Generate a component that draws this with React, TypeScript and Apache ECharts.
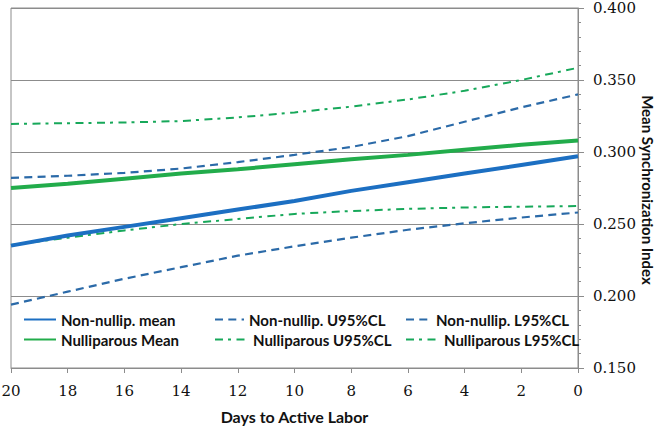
import React, { useEffect, useRef } from "react";
import * as echarts from "echarts";

const days = [20, 18, 16, 14, 12, 10, 8, 6, 4, 2, 0];
const nonNullipMean = [0.235, 0.242, 0.248, 0.254, 0.260, 0.266, 0.273, 0.279, 0.285, 0.291, 0.297];
const nonNullipU95 = [0.282, 0.2835, 0.2855, 0.2885, 0.293, 0.298, 0.3035, 0.311, 0.321, 0.331, 0.340];
const nonNullipL95 = [0.194, 0.203, 0.212, 0.220, 0.228, 0.2345, 0.2405, 0.246, 0.2505, 0.2545, 0.258];
const nulliparousMean = [0.275, 0.278, 0.2815, 0.285, 0.288, 0.2915, 0.295, 0.298, 0.3015, 0.305, 0.308];
const nulliparousU95 = [0.3195, 0.32, 0.3205, 0.3215, 0.324, 0.3275, 0.3315, 0.3365, 0.3425, 0.35, 0.3585];
const nulliparousL95 = [0.2355, 0.2405, 0.2455, 0.25, 0.2535, 0.257, 0.259, 0.2605, 0.2615, 0.262, 0.2625];

const seriesNames = [
  "Non-nullip. mean",
  "Non-nullip. U95%CL",
  "Non-nullip. L95%CL",
  "Nulliparous Mean",
  "Nulliparous U95%CL",
  "Nulliparous L95%CL",
];

const xTitle = "Days to Active Labor";
const yTitle = "Mean Synchronization Index";

const yTickMin = 0.15;
const yTickMax = 0.4;
const yTickStep = 0.05;
const xMin = 0;
const xMax = 20;
const xStep = 2;

const BLUE = "#1c6fc2";
const BLUE_DASH = "#2b6aa8";
const GREEN = "#22ac4b";
const GREEN_DASH = "#17a85a";

const pairs = (vals: number[]) => days.map((d, i) => [d, vals[i]]);

export default function App() {
  const ref = useRef<HTMLDivElement>(null);
  useEffect(() => {
    if (!ref.current) return;
    const chart = echarts.init(ref.current, undefined, { renderer: "svg" });
    const legendFont = {
      fontFamily: "Lato",
      fontWeight: "bold" as const,
      fontSize: 15,
      color: "#111",
    };
    const legendPos: { left: number; top: number; w: number }[] = [
      { left: 23, top: 312, w: 32 },
      { left: 214, top: 312, w: 29 },
      { left: 405, top: 312, w: 25 },
      { left: 23, top: 332, w: 32 },
      { left: 214, top: 332, w: 33 },
      { left: 405, top: 332, w: 33 },
    ];
    const lineCfg = [
      { vals: nonNullipMean, color: BLUE, width: 4, type: "solid" as any },
      { vals: nonNullipU95, color: BLUE_DASH, width: 2.2, type: [8, 5.3] },
      { vals: nonNullipL95, color: BLUE_DASH, width: 2.2, type: [8, 5.3] },
      { vals: nulliparousMean, color: GREEN, width: 4, type: "solid" as any },
      { vals: nulliparousU95, color: GREEN_DASH, width: 2, type: [8, 5, 3, 5.5] },
      { vals: nulliparousL95, color: GREEN_DASH, width: 2, type: [8, 5, 3, 5.5] },
    ];
    const drawOrder = [5, 4, 2, 1, 3, 0];
    const series = drawOrder.map((i) => ({
      name: seriesNames[i],
      type: "line",
      data: pairs(lineCfg[i].vals),
      symbol: "none",
      smooth: false,
      color: lineCfg[i].color,
      lineStyle: {
        color: lineCfg[i].color,
        width: lineCfg[i].width,
        type: lineCfg[i].type,
        cap: "butt",
      },
    }));
    chart.setOption({
      animation: false,
      backgroundColor: "#ffffff",
      grid: {
        left: 11,
        right: 82,
        top: 8,
        bottom: 59,
        show: true,
        borderColor: "#8c8c8c",
        borderWidth: 1,
        containLabel: false,
        outerBoundsMode: "none",
      },
      graphic: [
        {
          type: "text",
          x: 294.5,
          y: 416,
          style: {
            text: xTitle,
            fontFamily: "Lato",
            fontWeight: "bold",
            fontSize: 16,
            fill: "#111",
            textAlign: "center",
            textVerticalAlign: "middle",
          },
        },
        {
          type: "text",
          x: 648,
          y: 190,
          rotation: -Math.PI / 2,
          style: {
            text: yTitle,
            fontFamily: "Lato",
            fontWeight: "bold",
            fontSize: 15,
            fill: "#111",
            textAlign: "center",
            textVerticalAlign: "middle",
          },
        },
      ],
      legend: seriesNames.map((n, i) => ({
        data: [n],
        left: legendPos[i].left,
        top: legendPos[i].top,
        padding: 0,
        itemWidth: legendPos[i].w,
        itemHeight: 14,
        itemGap: 5,
        textStyle: legendFont,
        selectedMode: false,
        itemStyle: { opacity: 0 },
      })),
      xAxis: {
        type: "value",
        min: xMin,
        max: xMax,
        interval: xStep,
        inverse: true,
        axisLine: { show: true, lineStyle: { color: "#8c8c8c", width: 1 } },
        axisTick: { show: true, length: 5, lineStyle: { color: "#8c8c8c" } },
        axisLabel: {
          margin: 15,
          fontFamily: "DejaVu Serif",
          fontSize: 15,
          color: "#111",
        },
        splitLine: { show: false },
      },
      yAxis: {
        type: "value",
        position: "right",
        min: yTickMin,
        max: yTickMax,
        interval: yTickStep,
        axisLine: { show: true, lineStyle: { color: "#8c8c8c", width: 1 } },
        axisTick: { show: true, length: 6, lineStyle: { color: "#8c8c8c" } },
        minorTick: { show: true, splitNumber: 5, length: 3, lineStyle: { color: "#8c8c8c" } },
        axisLabel: {
          margin: 15,
          fontFamily: "DejaVu Serif",
          fontSize: 15,
          color: "#111",
          formatter: (v: number) => v.toFixed(3),
        },
        splitLine: { show: true, lineStyle: { color: "#8c8c8c", width: 1 } },
      },
      series,
    });
    return () => chart.dispose();
  }, []);
  return <div ref={ref} style={{ width: 660, height: 427, position: "absolute", left: 0, top: 0 }} />;
}
